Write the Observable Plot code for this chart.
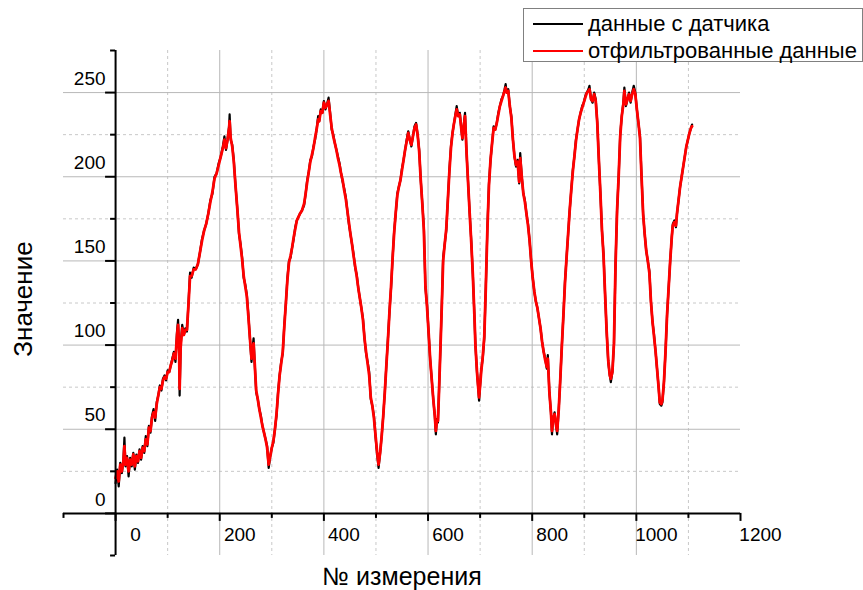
<!DOCTYPE html>
<html><head><meta charset="utf-8">
<script src="https://cdn.jsdelivr.net/npm/d3@7"></script>
<script src="https://cdn.jsdelivr.net/npm/@observablehq/plot@0.6"></script>
<style>
body{margin:0;background:#fff;font-family:"Liberation Sans",Arial,sans-serif;}
#wrap{position:relative;width:863px;height:590px;}
#legend{position:absolute;left:523px;top:8px;width:338px;height:52px;border:1px solid #808080;background:#fff;font-size:22px;color:#000;}
.row{position:absolute;left:0;height:26px;display:flex;align-items:center;white-space:nowrap;}
.sw{width:50px;height:2px;margin-left:9px;margin-right:5px;}
</style></head><body><div id="wrap"></div>
<script>
const xDomain = [-100, 1200];
const yDomain = [-25, 275];
const xMajorTicks = [0, 200, 400, 600, 800, 1000, 1200];
const xMinorTicks = [-100, 100, 300, 500, 700, 900, 1100];
const xGridMajor = [200, 400, 600, 800, 1000];
const xGridMinor = [100, 300, 500, 700, 900, 1100];
const yMajorTicks = [0, 50, 100, 150, 200, 250];
const yMinorTicks = [-25, 25, 75, 125, 175, 225, 275];
const yGridMajor = [50, 100, 150, 200, 250];
const yGridMinor = [25, 75, 125, 175, 225];
const seriesNames = ["данные с датчика", "отфильтрованные данные"];
const seriesColors = ["#000000", "#ff0000"];
const xTitle = "№ измерения";
const yTitle = "Значение";

// [measurement index, value] — raw sensor data
const sensorReadings = [[0,18],[3,26],[6,16],[9,30],[12,24],[15,32],[17,45],[19,28],[22,34],[25,22],[28,33],[31,28],[34,36],[37,26],[40,35],[43,30],[46,38],[49,32],[52,40],[55,36],[58,46],[61,40],[64,52],[67,48],[70,58],[73,62],[76,55],[79,66],[82,70],[85,76],[88,73],[91,80],[94,82],[97,79],[100,85],[103,84],[106,88],[109,92],[112,96],[115,90],[118,108],[120,115],[122,98],[123,70],[125,100],[128,112],[131,106],[134,110],[137,108],[140,125],[143,143],[146,140],[150,146],[154,145],[158,148],[162,155],[166,163],[170,168],[174,172],[178,178],[182,186],[186,190],[190,200],[194,202],[198,208],[202,212],[206,218],[209,224],[212,216],[215,222],[218,230],[219,237],[221,222],[224,219],[227,210],[230,196],[234,180],[237,166],[240,160],[243,152],[246,140],[249,136],[252,130],[255,118],[258,104],[261,90],[263,98],[265,104],[267,90],[270,72],[273,68],[276,62],[279,58],[282,52],[285,48],[288,44],[291,40],[294,27],[297,34],[300,39],[303,42],[306,50],[309,58],[312,72],[315,82],[318,90],[321,95],[324,112],[327,125],[330,140],[333,150],[336,152],[339,158],[342,163],[345,170],[348,174],[351,176],[354,178],[358,180],[362,183],[365,190],[368,198],[371,203],[374,210],[377,212],[380,218],[383,222],[386,228],[389,236],[391,233],[394,240],[397,238],[400,245],[403,240],[406,243],[409,247],[412,238],[415,228],[418,225],[421,220],[424,216],[427,212],[430,208],[433,202],[436,197],[439,193],[442,188],[445,180],[448,172],[451,166],[454,160],[457,154],[460,146],[463,142],[466,134],[469,128],[472,122],[475,116],[478,104],[481,95],[484,90],[487,84],[490,68],[493,64],[496,58],[499,46],[502,36],[505,27],[508,36],[511,46],[514,58],[517,72],[520,88],[523,104],[526,120],[529,134],[532,152],[535,168],[538,178],[541,190],[544,194],[547,198],[550,205],[553,210],[556,216],[559,222],[562,227],[565,222],[568,218],[571,224],[574,230],[577,232],[580,225],[583,216],[586,198],[589,184],[592,170],[595,134],[598,124],[601,108],[604,92],[607,80],[610,68],[613,58],[615,47],[617,56],[619,54],[621,72],[624,100],[627,130],[629,152],[632,160],[635,168],[638,186],[641,204],[644,218],[647,226],[650,232],[653,238],[655,242],[658,236],[661,238],[664,228],[666,222],[669,232],[671,238],[674,214],[677,196],[680,178],[683,162],[686,142],[689,118],[691,100],[694,84],[696,76],[698,67],[700,76],[702,85],[705,92],[708,104],[711,135],[714,170],[717,196],[720,210],[723,220],[726,230],[729,228],[732,232],[735,238],[738,242],[741,246],[744,248],[747,252],[749,255],[751,250],[754,252],[757,242],[760,236],[763,222],[766,212],[769,206],[772,210],[775,196],[777,214],[780,200],[783,190],[786,186],[789,178],[792,172],[795,162],[798,150],[801,140],[804,132],[807,126],[810,122],[813,116],[816,110],[819,102],[822,96],[825,92],[828,86],[830,94],[833,72],[836,60],[838,47],[840,56],[843,60],[846,52],[848,47],[851,62],[854,80],[857,100],[860,118],[863,138],[866,152],[869,166],[872,180],[875,192],[878,204],[881,212],[884,222],[887,228],[890,234],[893,238],[896,242],[899,244],[902,248],[905,250],[908,252],[910,254],[913,246],[916,244],[919,250],[922,246],[925,232],[928,210],[931,190],[934,168],[937,154],[940,130],[943,108],[946,90],[949,82],[951,78],[954,84],[957,100],[960,148],[963,180],[966,200],[969,225],[972,236],[975,244],[977,253],[980,242],[983,246],[986,250],[989,244],[992,250],[995,254],[998,250],[1001,240],[1004,232],[1007,224],[1010,200],[1013,178],[1016,166],[1019,156],[1022,150],[1025,144],[1028,126],[1031,114],[1034,106],[1037,96],[1040,85],[1043,74],[1045,65],[1048,64],[1050,66],[1053,78],[1056,96],[1059,118],[1062,134],[1065,150],[1068,164],[1070,172],[1073,174],[1076,170],[1078,178],[1081,186],[1084,194],[1087,200],[1090,206],[1093,212],[1096,218],[1099,222],[1102,226],[1105,229],[1107,231]];

// [measurement index, value] — filtered data
const filteredReadings = [[0,21],[3,25],[6,19],[9,29],[12,25],[15,31],[17,40],[19,29],[22,33],[25,25],[28,32],[31,29],[34,35],[37,28],[40,34],[43,31],[46,37],[49,33],[52,39],[55,37],[58,44],[61,41],[64,51],[67,49],[70,57],[73,60],[76,57],[79,65],[82,70],[85,75],[88,74],[91,79],[94,81],[97,80],[100,84],[103,84],[106,88],[109,91],[112,95],[115,92],[118,106],[120,112],[122,97],[123,74],[125,99],[128,110],[131,106],[134,109],[137,109],[140,124],[143,141],[146,141],[150,145],[154,145],[158,148],[162,155],[166,162],[170,168],[174,172],[178,178],[182,185],[186,191],[190,199],[194,202],[198,207],[202,212],[206,217],[209,222],[212,217],[215,222],[218,229],[219,233],[221,223],[224,218],[227,209],[230,196],[234,180],[237,167],[240,159],[243,151],[246,141],[249,135],[252,129],[255,117],[258,104],[261,92],[263,97],[265,101],[267,90],[270,73],[273,68],[276,62],[279,57],[282,52],[285,48],[288,44],[291,39],[294,29],[297,34],[300,39],[303,43],[306,50],[309,59],[312,71],[315,82],[318,89],[321,96],[324,111],[327,125],[330,139],[333,149],[336,153],[339,158],[342,164],[345,169],[348,174],[351,176],[354,178],[358,180],[362,184],[365,190],[368,197],[371,203],[374,209],[377,213],[380,217],[383,223],[386,228],[389,234],[391,233],[394,239],[397,238],[400,244],[403,241],[406,243],[409,245],[412,237],[415,229],[418,224],[421,220],[424,216],[427,211],[430,207],[433,202],[436,198],[439,192],[442,187],[445,180],[448,173],[451,166],[454,160],[457,153],[460,147],[463,141],[466,134],[469,128],[472,122],[475,115],[478,104],[481,96],[484,89],[487,82],[490,69],[493,64],[496,57],[499,47],[502,37],[505,29],[508,36],[511,46],[514,58],[517,72],[520,88],[523,103],[526,120],[529,135],[532,152],[535,167],[538,179],[541,189],[544,194],[547,198],[550,204],[553,210],[556,216],[559,221],[562,226],[565,222],[568,219],[571,224],[574,229],[577,231],[580,225],[583,215],[586,198],[589,184],[592,168],[595,135],[598,123],[601,108],[604,92],[607,80],[610,68],[613,58],[615,49],[617,55],[619,55],[621,72],[624,100],[627,129],[629,150],[632,160],[635,169],[638,186],[641,203],[644,217],[647,226],[650,232],[653,237],[655,240],[658,236],[661,237],[664,228],[666,223],[669,231],[671,236],[674,214],[677,196],[680,178],[683,161],[686,142],[689,118],[691,100],[694,84],[696,76],[698,69],[700,76],[702,84],[705,93],[708,105],[711,135],[714,169],[717,195],[720,210],[723,220],[726,229],[729,228],[732,232],[735,237],[738,242],[741,245],[744,248],[747,251],[749,253],[751,250],[754,251],[757,242],[760,235],[763,222],[766,212],[769,207],[772,209],[775,197],[777,211],[780,200],[783,190],[786,185],[789,178],[792,171],[795,162],[798,150],[801,140],[804,132],[807,126],[810,122],[813,116],[816,110],[819,102],[822,96],[825,91],[828,87],[830,92],[833,72],[836,60],[838,49],[840,56],[843,59],[846,52],[848,49],[851,62],[854,80],[857,100],[860,118],[863,137],[866,152],[869,166],[872,180],[875,192],[878,203],[881,212],[884,221],[887,228],[890,234],[893,238],[896,241],[899,244],[902,247],[905,250],[908,251],[910,252],[913,246],[916,245],[919,249],[922,245],[925,232],[928,210],[931,190],[934,168],[937,153],[940,130],[943,108],[946,91],[949,82],[951,80],[954,84],[957,101],[960,147],[963,180],[966,200],[969,224],[972,236],[975,243],[977,251],[980,243],[983,246],[986,249],[989,245],[992,249],[995,252],[998,249],[1001,240],[1004,232],[1007,223],[1010,200],[1013,178],[1016,166],[1019,156],[1022,150],[1025,143],[1028,126],[1031,114],[1034,105],[1037,96],[1040,85],[1043,74],[1045,66],[1048,65],[1050,67],[1053,78],[1056,96],[1059,118],[1062,134],[1065,150],[1068,164],[1070,171],[1073,173],[1076,171],[1078,178],[1081,186],[1084,194],[1087,200],[1090,206],[1093,212],[1096,218],[1099,222],[1102,226],[1105,229],[1107,230]];

const font = "'Liberation Sans', Arial, sans-serif";
const chart = Plot.plot({
  width: 863, height: 590,
  marginLeft: 63, marginRight: 123, marginTop: 50, marginBottom: 35,
  x: {domain: xDomain, axis: null},
  y: {domain: yDomain, axis: null},
  style: {fontFamily: font, background: "white", color: "black"},
  marks: [
    Plot.ruleX(xGridMinor, {stroke: "#c8c8c8", strokeDasharray: "3,3", strokeWidth: 1}),
    Plot.ruleY(yGridMinor, {stroke: "#c8c8c8", strokeDasharray: "3,3", strokeWidth: 1}),
    Plot.ruleX(xGridMajor, {stroke: "#b8b8b8", strokeWidth: 1}),
    Plot.ruleY(yGridMajor, {stroke: "#b8b8b8", strokeWidth: 1}),
    Plot.line(sensorReadings, {x: d => d[0], y: d => d[1], stroke: seriesColors[0], strokeWidth: 2.2}),
    Plot.line(filteredReadings, {x: d => d[0], y: d => d[1], stroke: seriesColors[1], strokeWidth: 2.8}),
    Plot.ruleY([0], {stroke: "black", strokeWidth: 2}),
    Plot.ruleX([0], {stroke: "black", strokeWidth: 2}),
    Plot.ruleX(xMajorTicks, {y1: 0, y2: 0, insetBottom: -8, stroke: "black", strokeWidth: 2}),
    Plot.ruleX(xMinorTicks, {y1: 0, y2: 0, insetBottom: -5, stroke: "black", strokeWidth: 2}),
    Plot.ruleY(yMajorTicks, {x1: 0, x2: 0, insetLeft: -10, stroke: "black", strokeWidth: 2}),
    Plot.ruleY(yMinorTicks, {x1: 0, x2: 0, insetLeft: -5, stroke: "black", strokeWidth: 2}),
    Plot.text(xMajorTicks, {x: d => d, y: 0, text: d => String(d), dx: 20, dy: 21, fontSize: 19, fill: "black"}),
    Plot.text(yMajorTicks, {x: 0, y: d => d, text: d => String(d), dx: -10, dy: -14, textAnchor: "end", fontSize: 19, fill: "black"}),
    Plot.text([yTitle], {frameAnchor: "left", dx: -40, dy: -4, rotate: -90, textAnchor: "middle", lineAnchor: "middle", fontSize: 26, fill: "black"}),
    Plot.text([xTitle], {frameAnchor: "bottom", dy: 21, textAnchor: "middle", lineAnchor: "middle", fontSize: 25, fill: "black"})
  ]
});
const wrap = document.getElementById("wrap");
wrap.appendChild(chart);
const legend = document.createElement("div");
legend.id = "legend";
seriesNames.forEach((name, i) => {
  const row = document.createElement("div");
  row.className = "row";
  row.style.top = (i * 27 + 2) + "px";
  const sw = document.createElement("div");
  sw.className = "sw";
  sw.style.background = seriesColors[i];
  const label = document.createElement("span");
  label.textContent = name;
  row.appendChild(sw);
  row.appendChild(label);
  legend.appendChild(row);
});
wrap.appendChild(legend);
</script></body></html>
